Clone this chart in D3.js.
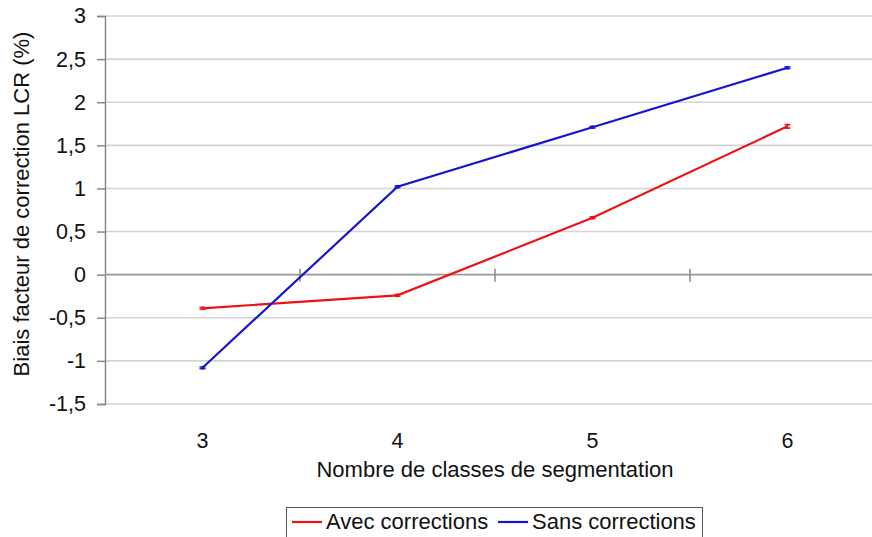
<!DOCTYPE html>
<html><head><meta charset="utf-8">
<script src="https://cdn.jsdelivr.net/npm/d3@7"></script>
<style>body{margin:0;background:#fff}svg{display:block}text{font-family:"Liberation Sans",Arial,sans-serif;fill:#111}</style>
</head><body><svg id="c" width="872" height="537"></svg>
<script>
const categories = ["3","4","5","6"];
const avecCorrections = [-0.39, -0.24, 0.66, 1.72];
const sansCorrections = [-1.08, 1.02, 1.71, 2.40];
const errAvec = [0.01, 0.01, 0.01, 0.02];
const errSans = [0.01, 0.01, 0.01, 0.01];
const yTicks = [-1.5,-1,-0.5,0,0.5,1,1.5,2,2.5,3];
const seriesNames = ["Avec corrections","Sans corrections"];
const colors = ["#ee1111","#1515d0"];

const svg = d3.select("#c");
const x = d3.scaleBand().domain(categories).range([105, 885]);
const y = d3.scaleLinear().domain([-1.5, 3]).range([404, 16]);
const fmt = v => String(v).replace(".", ",");

// gridlines
svg.append("g").selectAll("line").data(yTicks.filter(t=>t!==0)).join("line")
  .attr("x1",105).attr("x2",872).attr("y1",d=>y(d)).attr("y2",d=>y(d))
  .attr("stroke","#d4d4d4").attr("stroke-width",1.6);

// y axis
const ya = svg.append("g").attr("transform","translate(105,0)")
  .call(d3.axisLeft(y).tickValues(yTicks).tickFormat(fmt).tickSize(8).tickPadding(11));
ya.select(".domain").attr("stroke","#888").attr("stroke-width",1.5);
ya.selectAll(".tick line").attr("stroke","#888").attr("stroke-width",1.5);
ya.selectAll("text").attr("font-size",21.5).attr("fill","#111").attr("font-family","Liberation Sans, Arial, sans-serif");

// x axis at zero
const xa = svg.append("g").attr("transform",`translate(0,${y(0)})`);
xa.append("line").attr("x1",105).attr("x2",872).attr("stroke","#999").attr("stroke-width",1.6);
xa.selectAll(".sep").data(categories.slice(1)).join("line").attr("class","sep")
  .attr("x1",d=>x(d)).attr("x2",d=>x(d)).attr("y1",-6).attr("y2",7)
  .attr("stroke","#888").attr("stroke-width",1.5);
svg.append("g").selectAll("text").data(categories).join("text")
  .attr("x",d=>x(d)+x.bandwidth()/2).attr("y",448).attr("text-anchor","middle")
  .attr("font-size",21.5).text(d=>d);

// titles
svg.append("text").attr("x",495).attr("y",477).attr("text-anchor","middle")
  .attr("font-size",22).text("Nombre de classes de segmentation");
svg.append("text").attr("transform","translate(29,204) rotate(-90)").attr("text-anchor","middle")
  .attr("font-size",22).text("Biais facteur de correction LCR (%)");

// lines
const data = [avecCorrections, sansCorrections];
const errs = [errAvec, errSans];
const line = d3.line().x((d,i)=>x(categories[i])+x.bandwidth()/2).y(d=>y(d));
data.forEach((s,k)=>{
  svg.append("path").datum(s).attr("d",line).attr("fill","none")
    .attr("stroke",colors[k]).attr("stroke-width",2.2);
  const g = svg.append("g");
  s.forEach((v,i)=>{
    const cx = x(categories[i])+x.bandwidth()/2, e = errs[k][i];
    g.append("line").attr("x1",cx).attr("x2",cx).attr("y1",y(v+e)-1).attr("y2",y(v-e)+1).attr("stroke",colors[k]).attr("stroke-width",1.5);
    [v+e,v-e].forEach(w=>g.append("line").attr("x1",cx-3).attr("x2",cx+3).attr("y1",y(w)).attr("y2",y(w)).attr("stroke",colors[k]).attr("stroke-width",1.5));
  });
});

// legend
const lg = svg.append("g");
lg.append("rect").attr("x",286.5).attr("y",507.5).attr("width",416).attr("height",40)
  .attr("fill","#fff").attr("stroke","#555").attr("stroke-width",1);
const lx = [292, 498];
seriesNames.forEach((n,k)=>{
  lg.append("line").attr("x1",lx[k]).attr("x2",lx[k]+30).attr("y1",522).attr("y2",522)
    .attr("stroke",colors[k]).attr("stroke-width",2.2);
  lg.append("text").attr("x",lx[k]+34).attr("y",529).attr("font-size",22).text(n);
});
</script></body></html>
